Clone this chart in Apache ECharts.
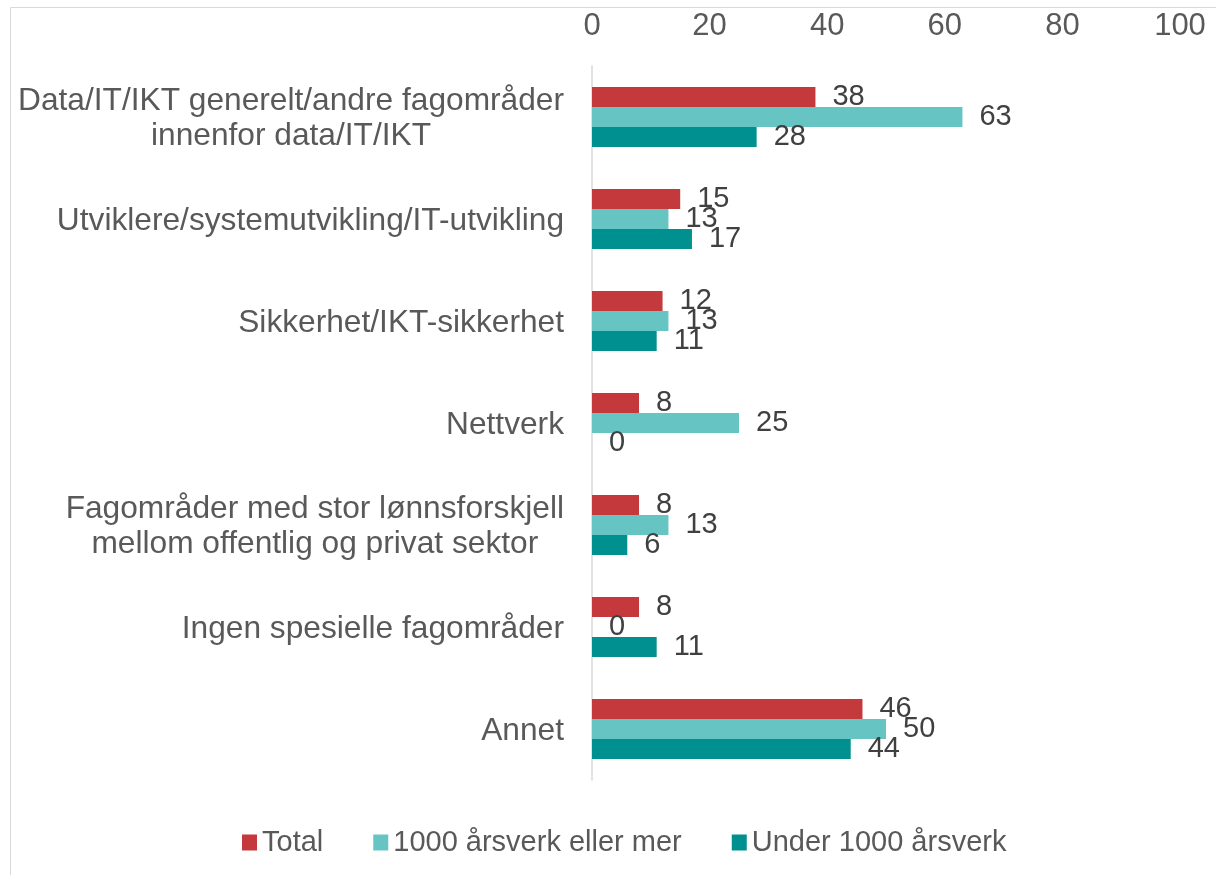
<!DOCTYPE html>
<html>
<head>
<meta charset="utf-8">
<script src="https://cdn.jsdelivr.net/npm/echarts@6/dist/echarts.min.js"></script>
<style>
  html, body { margin: 0; padding: 0; background: #fff; }
  #chart { width: 1216px; height: 875px; }
</style>
</head>
<body>
<div id="chart"></div>
<script>
// kategorier (ovenfra og ned)
const categories = [
  'Data/IT/IKT generelt/andre fagområder\ninnenfor data/IT/IKT',
  'Utviklere/systemutvikling/IT-utvikling',
  'Sikkerhet/IKT-sikkerhet',
  'Nettverk',
  'Fagområder med stor lønnsforskjell\nmellom offentlig og privat sektor',
  'Ingen spesielle fagområder',
  'Annet'
]
const seriesNames = ['Total', '1000 årsverk eller mer', 'Under 1000 årsverk']
const totalValues = [38, 15, 12, 8, 8, 8, 46]
const largeValues = [63, 13, 13, 25, 13, 0, 50]
const smallValues = [28, 17, 11, 0, 6, 11, 44]
const xTicks = [0, 20, 40, 60, 80, 100]

const colors = ['#C4393C', '#66C5C3', '#00908F']
const fontFamily = '"Liberation Sans", Arial, sans-serif'

const chart = echarts.init(document.getElementById('chart'))

const makeSeries = (name, data, color) => ({
  name: name,
  type: 'bar',
  data: data,
  barWidth: 20,
  barGap: '0%',
  itemStyle: { color: color },
  label: {
    show: true,
    position: 'right',
    distance: 17,
    color: '#404040',
    fontSize: 29,
    fontFamily: fontFamily
  }
})

const option = {
  animation: false,
  backgroundColor: '#fff',
  graphic: [{
    type: 'rect',
    shape: { x: 10.5, y: 7.5, width: 1300, height: 1000 },
    style: { fill: 'none', stroke: '#d9d9d9', lineWidth: 1 },
    silent: true
  }],
  grid: {
    left: 592,
    right: 36,
    top: 66,
    bottom: 95
  },
  legend: {
    bottom: 13,
    left: 237,
    itemWidth: 15,
    itemHeight: 16,
    itemGap: 50,
    icon: 'rect',
    textStyle: { color: '#595959', fontSize: 29, fontFamily: fontFamily },
    data: seriesNames
  },
  xAxis: {
    type: 'value',
    position: 'top',
    min: xTicks[0],
    max: xTicks[xTicks.length - 1],
    interval: 20,
    axisLine: { show: false },
    axisTick: { show: false },
    splitLine: { show: false },
    axisLabel: {
      color: '#595959',
      fontSize: 31,
      fontFamily: fontFamily,
      margin: 24
    }
  },
  yAxis: {
    type: 'category',
    inverse: true,
    data: categories,
    axisLine: { show: true, lineStyle: { color: '#d9d9d9', width: 1.5 } },
    axisTick: { show: false },
    axisLabel: {
      margin: 28,
      formatter: value => value.split('\n').map(l => '{c|' + l + '}').join('\n'),
      rich: {
        c: {
          align: 'center',
          color: '#595959',
          fontSize: 31.7,
          fontFamily: fontFamily,
          lineHeight: 35,
          padding: [4, 0, 0, 0]
        }
      }
    }
  },
  series: [
    makeSeries(seriesNames[0], totalValues, colors[0]),
    makeSeries(seriesNames[1], largeValues, colors[1]),
    makeSeries(seriesNames[2], smallValues, colors[2])
  ]
}

chart.setOption(option)
</script>
</body>
</html>
